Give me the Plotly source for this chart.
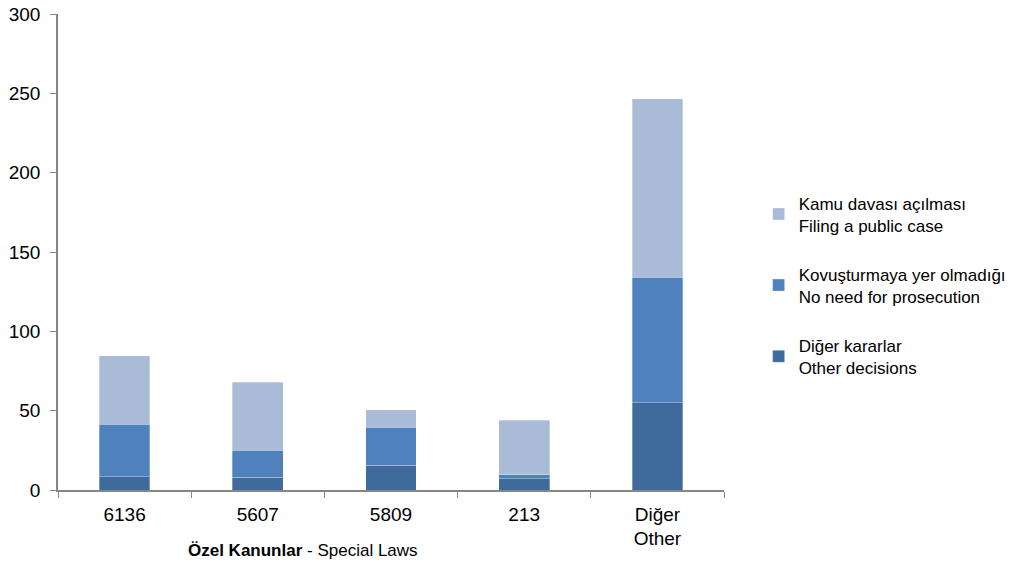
import plotly.graph_objects as go

# categories and stacked series
laws = ["6136", "5607", "5809", "213", "Diğer<br>Other"]
other_decisions = [8.5, 8, 15.5, 7, 55]
no_prosecution = [33, 17, 24, 2.5, 79]
public_case = [43, 43, 11, 34.5, 112.5]

# (legend label, values, colour, legend position from top)
series = [
    ("Diğer kararlar<br>Other decisions", other_decisions, "#3F6A9C", 3),
    ("Kovuşturmaya yer olmadığı<br>No need for prosecution", no_prosecution, "#4F81BD", 2),
    ("Kamu davası açılması<br>Filing a public case", public_case, "#AABBD7", 1),
]

AXIS_GREY = "#868686"
FONT = "Liberation Sans, Arial, sans-serif"

fig = go.Figure()
for i, (name, vals, color, rank) in enumerate(series):
    fig.add_trace(go.Bar(
        x=laws, y=vals,
        name=name,
        legendgroup=f"g{i}",
        legendrank=rank,
        marker=dict(color=color, line=dict(color="rgba(255,255,255,0.5)", width=0.6)),
    ))

fig.update_layout(
    barmode="stack",
    bargap=0.62,
    width=1035, height=564,
    paper_bgcolor="white",
    plot_bgcolor="white",
    font=dict(family=FONT, color="#000000", size=18),
    margin=dict(l=58, r=311, t=14, b=74, autoexpand=False),
    legend=dict(
        x=1.052, xanchor="left",
        y=0.43, yanchor="middle",
        traceorder="grouped",
        tracegroupgap=24,
        font=dict(size=17),
        itemwidth=30,
    ),
)

fig.update_xaxes(
    automargin=False,
    showline=True, linecolor=AXIS_GREY, linewidth=1.5,
    ticks="outside", tickson="boundaries", ticklen=6, tickcolor=AXIS_GREY,
    ticklabelstandoff=6,
    showgrid=False, tickfont=dict(size=19),
)
fig.update_yaxes(
    automargin=False,
    range=[0, 300], dtick=50,
    showline=True, linecolor=AXIS_GREY, linewidth=1.5,
    ticks="outside", ticklen=6, tickcolor=AXIS_GREY,
    ticklabelstandoff=6,
    showgrid=False, zeroline=False, tickfont=dict(size=19),
)

# axis title sits left of the axis centre in the original
fig.add_annotation(
    x=0.368, y=-0.128, xref="paper", yref="paper",
    xanchor="center", yanchor="middle", showarrow=False,
    text="<b>Özel Kanunlar</b> - Special Laws",
    font=dict(size=17),
)

# drop the default page margin so the chart fills the window exactly
fig.write_html(
    "out.html",
    config={"displayModeBar": False},
    post_script="document.body.style.margin='0';",
)
